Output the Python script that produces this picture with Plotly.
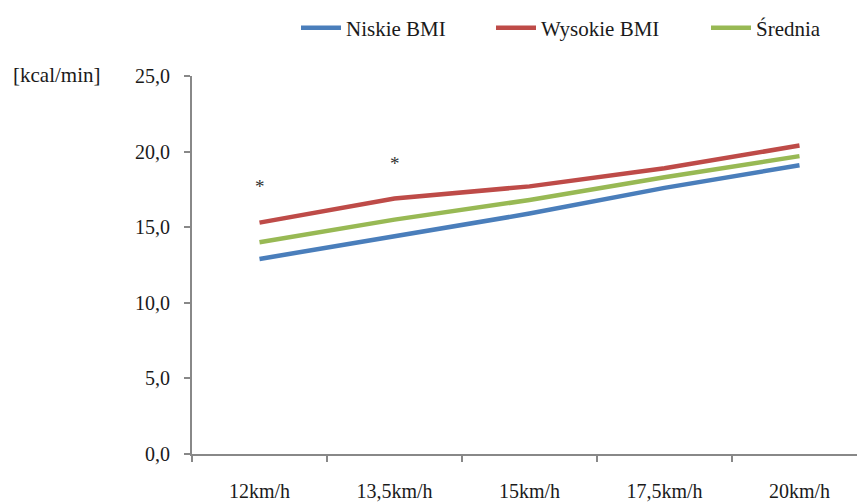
import plotly.graph_objects as go

# Running speed categories
speeds = ["12km/h", "13,5km/h", "15km/h", "17,5km/h", "20km/h"]

# Energy expenditure [kcal/min]
niskie_bmi = [12.9, 14.4, 15.9, 17.6, 19.1]
wysokie_bmi = [15.3, 16.9, 17.7, 18.9, 20.4]
srednia = [14.0, 15.5, 16.8, 18.3, 19.7]

# Significance markers (speed, height)
sig_speed = ["12km/h", "13,5km/h"]
sig_height = [17.7, 19.2]

y_ticks = [0, 5, 10, 15, 20, 25]
y_tick_text = ["0,0", "5,0", "10,0", "15,0", "20,0", "25,0"]

W, H = 857, 503
ML, MR, MT, MB = 192, 0, 76, 49
plot_w = W - ML - MR
plot_h = H - MT - MB

serif = "Liberation Serif"
text_col = "#1a1a1a"

fig = go.Figure()
# name, values, colour, legend id, legend left edge (px)
series = [
    ("Niskie BMI", niskie_bmi, "#4a7ebb", "legend", 296),
    ("Wysokie BMI", wysokie_bmi, "#be4b48", "legend2", 491),
    ("Średnia", srednia, "#98b954", "legend3", 706),
]
legend_layouts = {}
for name, vals, col, lg, lx in series:
    fig.add_trace(go.Scatter(
        x=speeds, y=vals, name=name, mode="lines",
        line=dict(color=col, width=4.5), legend=lg,
    ))
    legend_layouts[lg] = dict(
        orientation="h",
        x=(lx - ML) / plot_w, xanchor="left",
        y=(H - MB - 28) / plot_h, yanchor="middle",
        font=dict(family=serif, size=21, color=text_col),
        itemwidth=40,
        bgcolor="rgba(0,0,0,0)",
    )

for sx, sy in zip(sig_speed, sig_height):
    fig.add_annotation(
        x=sx, y=sy, xref="x", yref="y", text="*", showarrow=False,
        font=dict(family=serif, size=19, color="#333333"),
    )

fig.add_annotation(
    x=(11 - ML) / plot_w, y=(H - MB - 75) / plot_h, xref="paper", yref="paper",
    xanchor="left", yanchor="middle", text="[kcal/min]", showarrow=False,
    font=dict(family=serif, size=21, color=text_col),
)

fig.update_layout(
    width=W, height=H,
    margin=dict(l=ML, r=MR, t=MT, b=MB),
    paper_bgcolor="white", plot_bgcolor="white",
    font=dict(family=serif, size=20, color=text_col),
    showlegend=True,
    xaxis=dict(
        type="category",
        range=[-0.5, -0.5 + plot_w / 135.0],
        tickson="boundaries",
        ticks="outside", ticklen=6, tickcolor="#888888", tickwidth=1.5,
        showline=True, linecolor="#888888", linewidth=2,
        showgrid=False, zeroline=False,
        ticklabelstandoff=18,
        tickfont=dict(family=serif, size=20, color=text_col),
    ),
    yaxis=dict(
        range=[0, 25],
        tickvals=y_ticks, ticktext=y_tick_text,
        ticks="outside", ticklen=6, tickcolor="#888888", tickwidth=1.5,
        showline=True, linecolor="#888888", linewidth=2,
        showgrid=False, zeroline=False,
        ticklabelstandoff=10,
        tickfont=dict(family=serif, size=20, color=text_col),
    ),
    **legend_layouts,
)

fig.write_html("out.html")
